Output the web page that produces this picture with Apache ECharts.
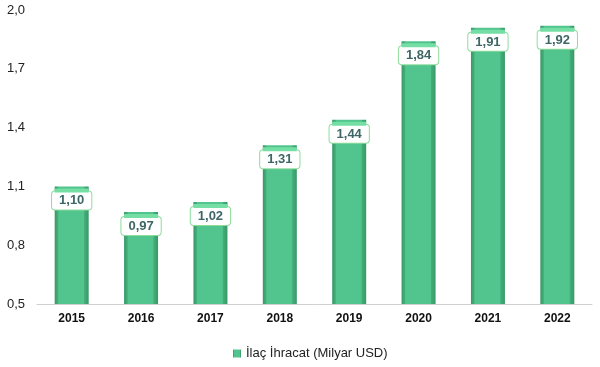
<!DOCTYPE html>
<html><head><meta charset="utf-8">
<script src="https://cdn.jsdelivr.net/npm/echarts@6/dist/echarts.min.js"></script>
<style>html,body{margin:0;padding:0;background:#fff}#c{width:600px;height:367px}</style>
</head><body><div id="c"></div>
<script>
var categories = ['2015','2016','2017','2018','2019','2020','2021','2022'];
var exportValues = [1.10, 0.97, 1.02, 1.31, 1.44, 1.84, 1.91, 1.92];
var yTicks = [0.5, 0.8, 1.1, 1.4, 1.7, 2.0];
var seriesName = 'İlaç İhracat (Milyar USD)';

var fmt = function (v) { return v.toFixed(1).replace('.', ','); };
var chart = echarts.init(document.getElementById('c'), null, {renderer: 'canvas'});
chart.setOption({
  animation: false,
  grid: {left: 37, right: 8, top: 10, bottom: 63},
  legend: {
    bottom: 2, left: 228,
    data: [{name: seriesName, icon: 'rect'}],
    itemWidth: 8, itemHeight: 8, itemGap: 4,
    textStyle: {fontFamily: 'Liberation Sans, Arial', fontSize: 13, color: '#222'}
  },
  xAxis: {
    type: 'category', data: categories,
    axisLine: {lineStyle: {color: '#d0d0d0'}},
    axisTick: {show: false},
    axisLabel: {fontFamily: 'Liberation Sans, Arial', fontSize: 12, fontWeight: 'bold', color: '#111', margin: 9}
  },
  yAxis: {
    type: 'value', min: 0.5, max: 2.0,
    splitLine: {show: false},
    axisLine: {show: false}, axisTick: {show: false},
    axisLabel: {
      customValues: yTicks,
      formatter: fmt,
      fontFamily: 'Liberation Sans, Arial', fontSize: 13, color: '#222', margin: 12
    }
  },
  series: [
    {
      name: seriesName, type: 'bar', data: exportValues, barWidth: 34,
      itemStyle: {
        color: new echarts.graphic.LinearGradient(0, 0, 1, 0, [
          {offset: 0, color: '#3a9866'},
          {offset: 0.09, color: '#42ad78'},
          {offset: 0.12, color: '#52c48e'},
          {offset: 0.85, color: '#52c48e'},
          {offset: 0.88, color: '#42ad78'},
          {offset: 1, color: '#3a9866'}
        ])
      },
      label: {
        show: true, position: 'insideTop', distance: 5,
        formatter: function (p) { return p.value.toFixed(2).replace('.', ','); },
        backgroundColor: '#fff', borderColor: '#8edc9e', borderWidth: 1, borderRadius: 3,
        padding: [3, 7, 2, 7],
        fontFamily: 'Liberation Sans, Arial', fontSize: 13, fontWeight: 'bold', color: '#3e6666'
      },
      z: 2
    },
    {
      name: 'cap', type: 'pictorialBar', data: exportValues,
      symbol: 'rect', symbolSize: [34, 4], symbolPosition: 'end', symbolOffset: [0, '50%'],
      itemStyle: {color: '#74dea4'}, z: 3, silent: true, legendHoverLink: false
    },
    {
      name: 'base', type: 'pictorialBar', data: exportValues,
      symbol: 'rect', symbolSize: [28, 4], symbolPosition: 'start', symbolOffset: [0, '-50%'],
      itemStyle: {color: '#5fd39b'}, z: 3, silent: true, legendHoverLink: false
    }
  ]
});
</script></body></html>
